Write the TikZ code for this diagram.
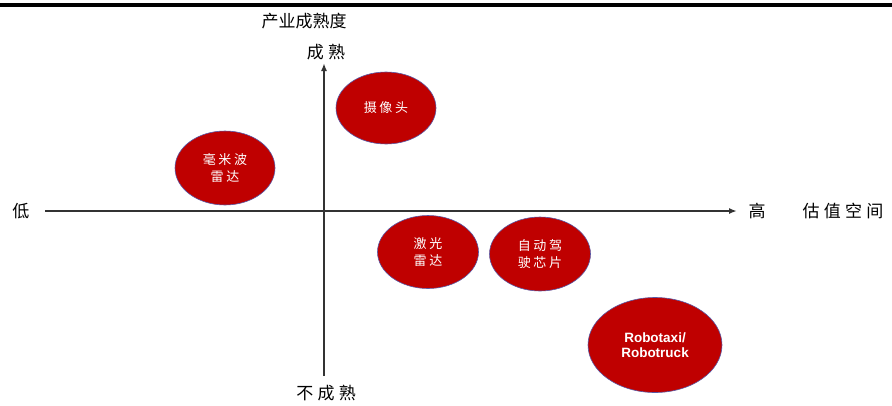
\documentclass[tikz,border=0pt]{standalone}
\usepackage{fontspec}
\newfontfamily\cjk{Noto Sans CJK SC}
\newfontfamily\cjkwide{Noto Sans CJK SC}[LetterSpace=25]
\newfontfamily\cjkbubble{Noto Sans CJK SC}[LetterSpace=20]
\setmainfont{Liberation Sans}
\usetikzlibrary{arrows.meta,shapes.geometric}

\begin{document}
\begin{tikzpicture}[x=1pt, y=-1pt,
    bubble/.style={ellipse, fill=red!75!black, draw=blue!30!gray, line width=0.6pt,
      text=white, align=center, inner sep=0pt},
    bubbletext/.style={font=\cjkbubble\fontsize{13}{17}\selectfont},
    axislabel/.style={font=\cjk\fontsize{17}{19}\selectfont},
    widelabel/.style={font=\cjkwide\fontsize{17}{19}\selectfont}]
    \useasboundingbox (0,0) rectangle (892,405);
    \fill[black] (0,3) rectangle (892,7);
    % axes
    \coordinate (xl) at (45,211);
    \coordinate (xr) at (737,211);
    \coordinate (yb) at (324,376);
    \coordinate (yt) at (324,63);
    \draw[black!80, line width=1.7pt, -{Latex[length=8pt, width=6pt]}] (xl) -- (xr);
    \draw[black!80, line width=1.7pt, -{Latex[length=8pt, width=6pt]}] (yb) -- (yt);
    \node[axislabel] (title) at (304,21) {产业成熟度};
    \node[widelabel] (top) at (326,52) {成熟};
    \node[widelabel] (bottom) at (326,393) {不成熟};
    \node[axislabel] (low) at (21,211) {低};
    \node[axislabel] (high) at (757,211) {高};
    \node[widelabel] (value) at (843,211) {估值空间};
    % bubbles
    \node[bubble, minimum width=100pt, minimum height=72pt, bubbletext] (camera) at (386,108) {摄像头};
    \node[bubble, minimum width=100pt, minimum height=74pt, bubbletext] (mmwave) at (225,168) {毫米波\\雷达};
    \node[bubble, minimum width=101pt, minimum height=73pt, bubbletext] (lidar) at (428,252) {激光\\雷达};
    \node[bubble, minimum width=101pt, minimum height=74pt, bubbletext] (chip) at (540,254) {自动驾\\驶芯片};
    \node[bubble, minimum width=134pt, minimum height=95pt, font=\bfseries\fontsize{13.5}{15}\selectfont] (robo) at (655,345) {Robotaxi/\\Robotruck};
\end{tikzpicture}
\end{document}
